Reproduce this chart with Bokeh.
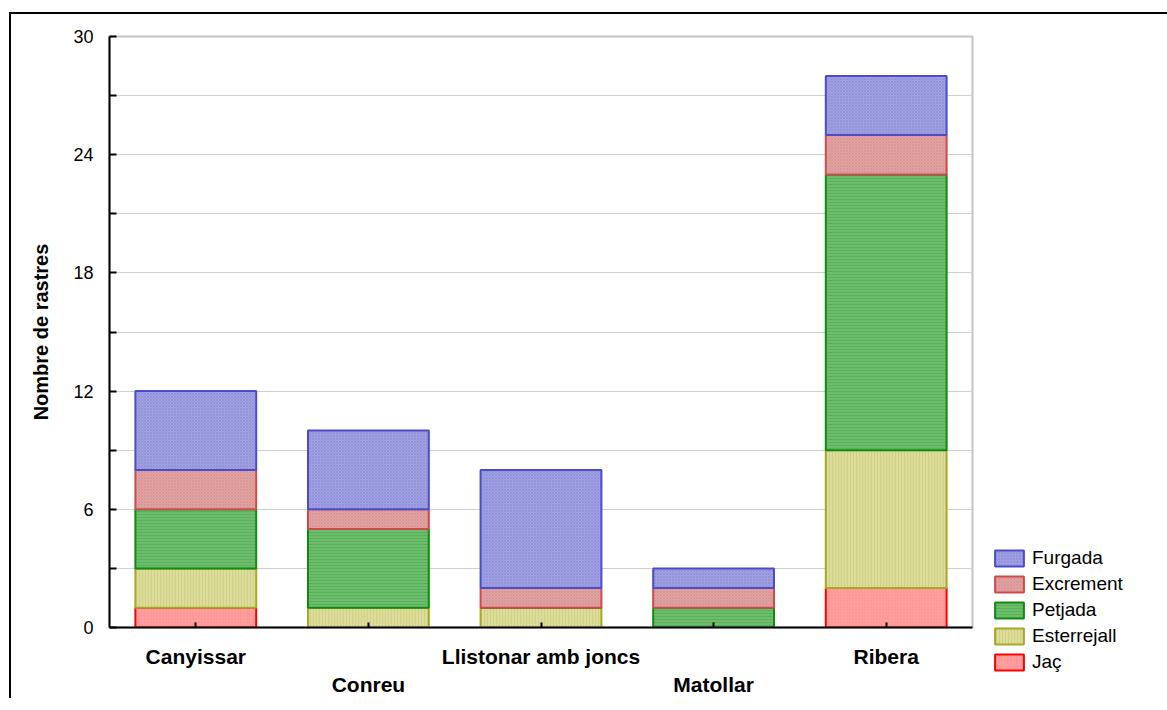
from bokeh.plotting import figure
from bokeh.models import FixedTicker, Legend, LegendItem, ColumnDataSource
from bokeh.embed import file_html
from bokeh.resources import INLINE

categories = ["Canyissar", "Conreu", "Llistonar amb joncs", "Matollar", "Ribera"]
series = ["Jaç", "Esterrejall", "Petjada", "Excrement", "Furgada"]
jac = [1, 0, 0, 0, 2]
esterrejall = [2, 1, 1, 0, 7]
petjada = [3, 4, 0, 1, 14]
excrement = [2, 1, 1, 1, 2]
furgada = [4, 4, 6, 1, 3]
y_ticks = [0, 6, 12, 18, 24, 30]
y_minor = [3, 9, 15, 21, 27]

fills = ["#ff9e9e", "#dcdc9c", "#6cbd6c", "#e3a3a3", "#a2a2e2"]
lines = ["#ff0000", "#a8a828", "#108a10", "#cc4c4c", "#4c4cc8"]
hatches = [".", "|", "-", "x", "x"]
hatch_cols = ["#ff8080", "#c8c870", "#50a850", "#d09090", "#8888d8"]

values = [jac, esterrejall, petjada, excrement, furgada]
xs = [i + 0.5 for i in range(len(categories))]

p = figure(frame_width=863, frame_height=591, x_range=(0, 5), y_range=(0, 30),
           output_backend="svg", toolbar_location=None,
           min_border_left=98, min_border_right=0, min_border_top=22, min_border_bottom=62)
p.styles = {"border-top": "2px solid black", "border-left": "2px solid black",
            "margin-top": "12px", "margin-left": "9px"}

p.outline_line_color = "#c4c4c4"
p.outline_line_width = 2
p.background_fill_color = "white"

renderers = []
bottom = [0] * len(categories)
for k, name in enumerate(series):
    top = [b + v for b, v in zip(bottom, values[k])]
    src = ColumnDataSource(dict(x=xs, bottom=bottom, top=top))
    r = p.vbar(x="x", bottom="bottom", top="top", width=0.7, source=src,
               fill_color=fills[k], line_color=lines[k], line_width=2,
               hatch_pattern=hatches[k], hatch_color=hatch_cols[k], hatch_scale=3,
               hatch_alpha=0.6, hatch_weight=1)
    renderers.append(r)
    bottom = top

# axes
p.yaxis.ticker = FixedTicker(ticks=y_ticks, minor_ticks=y_minor)
p.yaxis.major_tick_in = 7
p.yaxis.major_tick_out = 0
p.yaxis.minor_tick_in = 7
p.yaxis.minor_tick_out = 0
p.yaxis.axis_line_width = 2
p.yaxis.axis_line_color = "black"
p.yaxis.major_tick_line_width = 2
p.yaxis.minor_tick_line_width = 2
p.yaxis.major_tick_line_color = "black"
p.yaxis.minor_tick_line_color = "black"
p.yaxis.major_label_text_font = "Liberation Sans"
p.yaxis.major_label_text_font_size = "18px"
p.yaxis.major_label_text_color = "black"
p.yaxis.major_label_standoff = 16
p.yaxis.axis_label = "Nombre de rastres"
p.yaxis.axis_label_text_font = "Liberation Sans"
p.yaxis.axis_label_text_font_size = "20px"
p.yaxis.axis_label_text_font_style = "bold"
p.yaxis.axis_label_text_color = "black"
p.yaxis.axis_label_standoff = 18

p.xaxis.ticker = FixedTicker(ticks=xs)
overrides = {}
for i, c in enumerate(categories):
    overrides[xs[i]] = c if i % 2 == 0 else "\n" + c
p.xaxis.major_label_overrides = overrides
p.xaxis.major_tick_in = 5
p.xaxis.major_tick_out = 0
p.xaxis.axis_line_width = 2
p.xaxis.axis_line_color = "black"
p.xaxis.major_tick_line_width = 2
p.xaxis.major_tick_line_color = "black"
p.xaxis.major_label_text_font = "Liberation Sans"
p.xaxis.major_label_text_font_size = "21px"
p.xaxis.major_label_text_font_style = "bold"
p.xaxis.major_label_text_color = "black"
p.xaxis.major_label_text_line_height = 1.22
p.xaxis.major_label_standoff = 17

p.xgrid.grid_line_color = None
p.ygrid.grid_line_color = "#d0d0d0"
p.ygrid.minor_grid_line_color = "#d0d0d0"
p.ygrid.grid_line_width = 1

items = [LegendItem(label=series[k], renderers=[renderers[k]]) for k in range(4, -1, -1)]
legend = Legend(items=items, location=(19, -46), orientation="vertical",
                glyph_width=36, glyph_height=20, spacing=4, padding=0, margin=0,
                label_standoff=5, label_text_font="Liberation Sans",
                label_text_font_size="19px", label_text_color="black",
                border_line_alpha=0, background_fill_alpha=0, label_height=20)
p.add_layout(legend, "right")

open("out.html", "w").write(file_html(p, INLINE))
